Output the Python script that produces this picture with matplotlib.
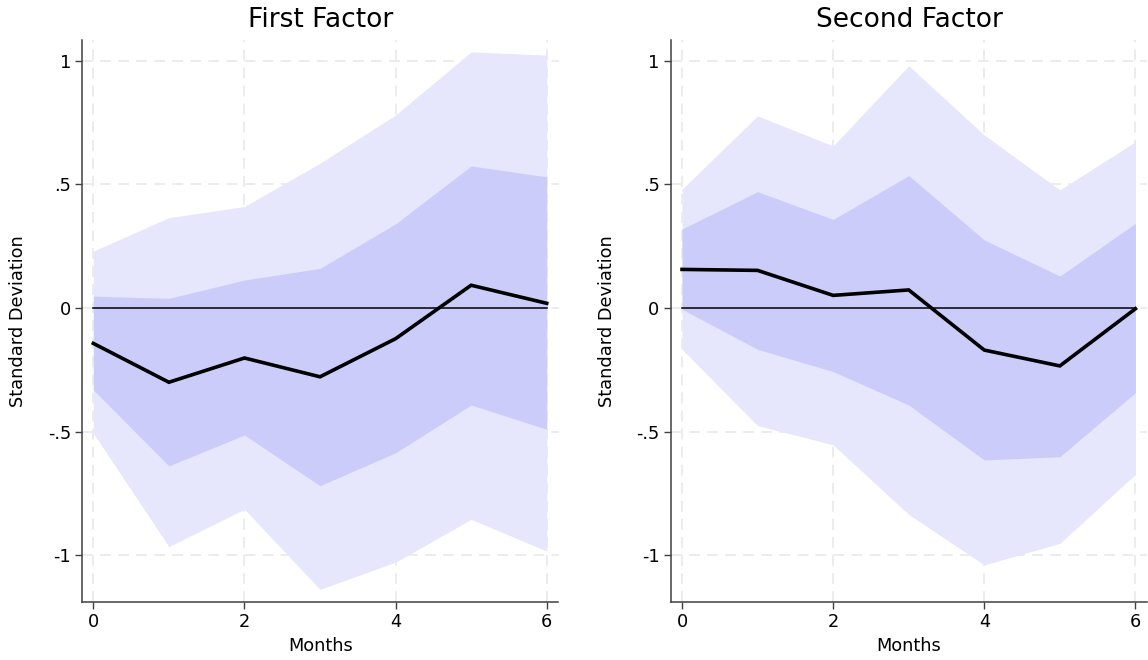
import matplotlib
matplotlib.use("Agg")
import matplotlib.pyplot as plt

# Impulse responses with 68% and 90% confidence bands, by horizon (months)
months = [0, 1, 2, 3, 4, 5, 6]

f1_irf = [-0.143, -0.300, -0.202, -0.278, -0.124, 0.092, 0.019]
f1_inner_lo = [-0.331, -0.638, -0.513, -0.718, -0.585, -0.392, -0.490]
f1_inner_hi = [0.048, 0.039, 0.113, 0.160, 0.340, 0.574, 0.530]
f1_outer_lo = [-0.506, -0.964, -0.813, -1.137, -1.027, -0.854, -0.982]
f1_outer_hi = [0.230, 0.365, 0.410, 0.585, 0.780, 1.035, 1.022]

f2_irf = [0.156, 0.152, 0.051, 0.073, -0.170, -0.234, -0.003]
f2_inner_lo = [-0.005, -0.167, -0.257, -0.392, -0.614, -0.601, -0.342]
f2_inner_hi = [0.319, 0.470, 0.358, 0.535, 0.275, 0.129, 0.342]
f2_outer_lo = [-0.167, -0.475, -0.553, -0.834, -1.038, -0.951, -0.672]
f2_outer_hi = [0.480, 0.776, 0.655, 0.979, 0.699, 0.477, 0.672]

titles = ["First Factor", "Second Factor"]
xtick_values = [0, 2, 4, 6]
ytick_values = [-1, -0.5, 0, 0.5, 1]
ytick_labels = ["-1", "-.5", "0", ".5", "1"]

panels = [
    (f1_irf, f1_inner_lo, f1_inner_hi, f1_outer_lo, f1_outer_hi),
    (f2_irf, f2_inner_lo, f2_inner_hi, f2_outer_lo, f2_outer_hi),
]

outer_color = "#E6E6FC"
inner_color = "#CCCCFB"
spine_color = "#404040"
grid_color = "#EBEBEB"

W, H = 1148, 660
fig = plt.figure(figsize=(W / 100, H / 100), dpi=100)
plt.rcParams["font.family"] = ["DejaVu Sans"]

axes_left_px = [82, 670.7]
axes_width_px = 476.5
axes_top_px, axes_bottom_px = 40, 602

for i, (irf, ilo, ihi, olo, ohi) in enumerate(panels):
    ax = fig.add_axes([
        axes_left_px[i] / W,
        1 - axes_bottom_px / H,
        axes_width_px / W,
        (axes_bottom_px - axes_top_px) / H,
    ])
    ax.set_axisbelow(True)
    ax.grid(True, color=grid_color, linestyle=(0, (6, 4)), linewidth=1.3)

    ax.fill_between(months, olo, ohi, color=outer_color, linewidth=0, zorder=1)
    ax.fill_between(months, ilo, ihi, color=inner_color, linewidth=0, zorder=2)
    ax.plot([months[0], months[-1]], [0, 0], color="black", linewidth=1.1, zorder=3)
    ax.plot(months, irf, color="black", linewidth=2.6, zorder=4,
            solid_joinstyle="miter")

    ax.set_xlim(-0.15, 6.156)
    ax.set_ylim(-1.188, 1.083)
    ax.set_xticks(xtick_values)
    ax.set_yticks(ytick_values)
    ax.set_yticklabels(ytick_labels)
    ax.tick_params(axis="both", direction="out", length=5, width=1,
                   color=spine_color, labelsize=12.8, labelcolor="black")
    ax.tick_params(axis="y", pad=3)
    ax.tick_params(axis="x", pad=3)

    for side in ("top", "right"):
        ax.spines[side].set_visible(False)
    for side in ("left", "bottom"):
        ax.spines[side].set_color(spine_color)
        ax.spines[side].set_linewidth(1.1)

    ax.set_title(titles[i], fontsize=19, pad=9.5)
    ax.set_xlabel("Months", fontsize=12.8)
    ax.set_ylabel("Standard Deviation", fontsize=12.8)
    ax.xaxis.set_label_coords(0.5, -0.062)
    ax.yaxis.set_label_coords(-0.115, 0.5)

fig.savefig("out.png", dpi=100)
